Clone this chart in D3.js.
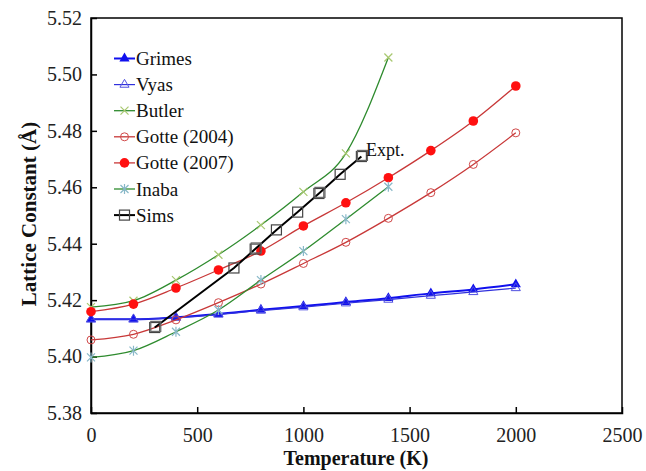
<!DOCTYPE html>
<html><head><meta charset="utf-8">
<script src="https://cdn.jsdelivr.net/npm/d3@7"></script>
<style>body{margin:0;background:#fff;} svg{display:block;} svg text{font-family:'Liberation Serif',serif !important;}</style>
</head><body>
<svg id="c" width="646" height="471"></svg>
<script>
const xTicks = [0, 500, 1000, 1500, 2000, 2500];
const yTicks = [5.38, 5.40, 5.42, 5.44, 5.46, 5.48, 5.50, 5.52];
const tempsGrid = [0, 200, 400, 600, 800, 1000, 1200, 1400, 1600, 1800, 2000];
const grimes = [5.4132, 5.4132, 5.4139, 5.4151, 5.4166, 5.4179, 5.4193, 5.4207, 5.4224, 5.4238, 5.4256];
const vyas   = [5.4132, 5.4132, 5.4138, 5.4149, 5.4163, 5.4175, 5.4189, 5.4202, 5.4216, 5.4229, 5.4243];
const tempsButler = [0, 200, 400, 600, 800, 1000, 1200, 1400];
const butler = [5.4175, 5.4198, 5.4271, 5.4361, 5.4466, 5.4584, 5.4720, 5.5060];
const gotte2004 = [5.4059, 5.4079, 5.4130, 5.4191, 5.4257, 5.4330, 5.4405, 5.4490, 5.4581, 5.4681, 5.4793];
const gotte2007 = [5.4159, 5.4186, 5.4243, 5.4307, 5.4374, 5.4463, 5.4545, 5.4634, 5.4730, 5.4835, 5.4959];
const tempsInaba = [0, 200, 400, 600, 800, 1000, 1200, 1400];
const inaba = [5.3997, 5.4021, 5.4088, 5.4165, 5.4271, 5.4374, 5.4487, 5.4602];
const tempsSims = [300, 673, 773, 873, 973, 1073, 1173, 1273];
const sims = [5.4103, 5.4314, 5.4381, 5.4449, 5.4512, 5.4578, 5.4646, 5.4709];
const tempsSimsDup = [305, 778, 1078, 1278];
const simsDup = [5.4107, 5.4385, 5.4582, 5.4713];

const FONT = "Liberation Serif";
const series = [
  {name:"Grimes", t:tempsGrid, v:grimes, line:"#1010ee", lw:2, marker:"triFill", mc:"#1010ee"},
  {name:"Vyas", t:tempsGrid, v:vyas, line:"#3030dd", lw:1.2, marker:"triOpen", mc:"#5050e0"},
  {name:"Butler", t:tempsButler, v:butler, line:"#2e8b2e", lw:1.3, marker:"x", mc:"#a8c870"},
  {name:"Gotte (2004)", t:tempsGrid, v:gotte2004, line:"#c83838", lw:1.3, marker:"circOpen", mc:"#d04848"},
  {name:"Gotte (2007)", t:tempsGrid, v:gotte2007, line:"#c83838", lw:1.3, marker:"circFill", mc:"#ff1010"},
  {name:"Inaba", t:tempsInaba, v:inaba, line:"#2e8b2e", lw:1.3, marker:"star", mc:"#88b8c8"},
  {name:"Sims", t:tempsSims, v:sims, line:"#000", lw:2, marker:"sq", mc:"#444"}
];

const svg = d3.select("#c");
const x = d3.scaleLinear().domain([0, 2500]).range([91, 622]);
const y = d3.scaleLinear().domain([5.38, 5.52]).range([413, 18]);

svg.append("rect").attr("x",91).attr("y",18).attr("width",531).attr("height",395)
  .attr("fill","none").attr("stroke","#000").attr("stroke-width",1.5);

const xAxis = d3.axisBottom(x).tickValues(xTicks).tickSize(-6).tickPadding(15).tickFormat(d3.format("d"));
const gx = svg.append("g").attr("transform","translate(0,413)").call(xAxis);
const yAxis = d3.axisLeft(y).tickValues(yTicks).tickSize(-6).tickPadding(9).tickFormat(d3.format(".2f"));
const gy = svg.append("g").attr("transform","translate(91,0)").call(yAxis);
[gx, gy].forEach(g => {
  g.attr("font-family", FONT);
  g.select(".domain").attr("stroke","#000").attr("stroke-width",1.5);
  g.selectAll(".tick line").attr("stroke","#000").attr("stroke-width",1.5);
  g.selectAll(".tick text").attr("font-family",FONT).attr("font-size",20).attr("fill","#222");
});
gx.selectAll(".tick").filter(d => d === 0 || d === 2500).select("line").remove();
gy.selectAll(".tick").filter(d => d === 5.38 || d === 5.52).select("line").remove();

svg.append("text").attr("x",356).attr("y",465).attr("text-anchor","middle").attr("font-family",FONT)
  .attr("font-weight","bold").attr("font-size",20).attr("fill","#111").text("Temperature (K)");
svg.append("text").attr("transform","translate(36,214) rotate(-90)").attr("text-anchor","middle").attr("font-family",FONT)
  .attr("font-weight","bold").attr("font-size",21).attr("fill","#111").text("Lattice Constant (Å)");

function drawMarker(g, type, cx, cy, col){
  if(type==="triFill"){
    g.append("path").attr("d", d3.symbol(d3.symbolTriangle, 45)()).attr("transform",`translate(${cx},${cy})`).attr("fill",col);
  } else if(type==="triOpen"){
    g.append("path").attr("d", d3.symbol(d3.symbolTriangle, 36)()).attr("transform",`translate(${cx},${cy})`).attr("fill","none").attr("stroke",col).attr("stroke-width",1);
  } else if(type==="x"){
    g.append("path").attr("d",`M${cx-4},${cy-4}L${cx+4},${cy+4}M${cx-4},${cy+4}L${cx+4},${cy-4}`).attr("stroke",col).attr("stroke-width",1.2);
  } else if(type==="star"){
    g.append("path").attr("d",`M${cx-4},${cy-4}L${cx+4},${cy+4}M${cx-4},${cy+4}L${cx+4},${cy-4}M${cx},${cy-5}L${cx},${cy+5}`).attr("stroke",col).attr("stroke-width",1.2);
  } else if(type==="circOpen"){
    g.append("circle").attr("cx",cx).attr("cy",cy).attr("r",4).attr("fill","none").attr("stroke",col).attr("stroke-width",1);
  } else if(type==="circFill"){
    g.append("circle").attr("cx",cx).attr("cy",cy).attr("r",4.8).attr("fill",col);
  } else if(type==="sq"){
    g.append("rect").attr("x",cx-5).attr("y",cy-5).attr("width",10).attr("height",10).attr("fill","none").attr("stroke",col).attr("stroke-width",1.2);
  }
}

const plot = svg.append("g");
const lineGen = d3.line().x(d=>x(d[0])).y(d=>y(d[1])).curve(d3.curveMonotoneX);
series.forEach(s => {
  const pts = s.t.map((t,i)=>[t, s.v[i]]);
  const g = plot.append("g");
  g.append("path").attr("d", s.name==="Sims" ? d3.line().x(d=>x(d[0])).y(d=>y(d[1]))(pts) : lineGen(pts))
    .attr("fill","none").attr("stroke",s.line).attr("stroke-width",s.lw);
  pts.forEach(p => drawMarker(g, s.marker, x(p[0]), y(p[1]), s.mc));
  if(s.name==="Sims"){
    tempsSimsDup.forEach((t,i)=>drawMarker(g, "sq", x(t), y(simsDup[i]), "#666"));
  }
});

svg.append("text").attr("x",366).attr("y",156).attr("font-family",FONT).attr("font-size",18).attr("fill","#111").text("Expt.");

const leg = svg.append("g");
series.forEach((s,i) => {
  const cy = 58.5 + i*26.1;
  leg.append("line").attr("x1",114).attr("x2",135).attr("y1",cy).attr("y2",cy).attr("stroke",s.line).attr("stroke-width",s.lw);
  drawMarker(leg, s.marker, 124.5, cy, s.mc);
  leg.append("text").attr("x",136).attr("y",cy+6.5).attr("font-family",FONT).attr("font-size",19).attr("fill","#111").text(s.name);
});
</script>
</body></html>
